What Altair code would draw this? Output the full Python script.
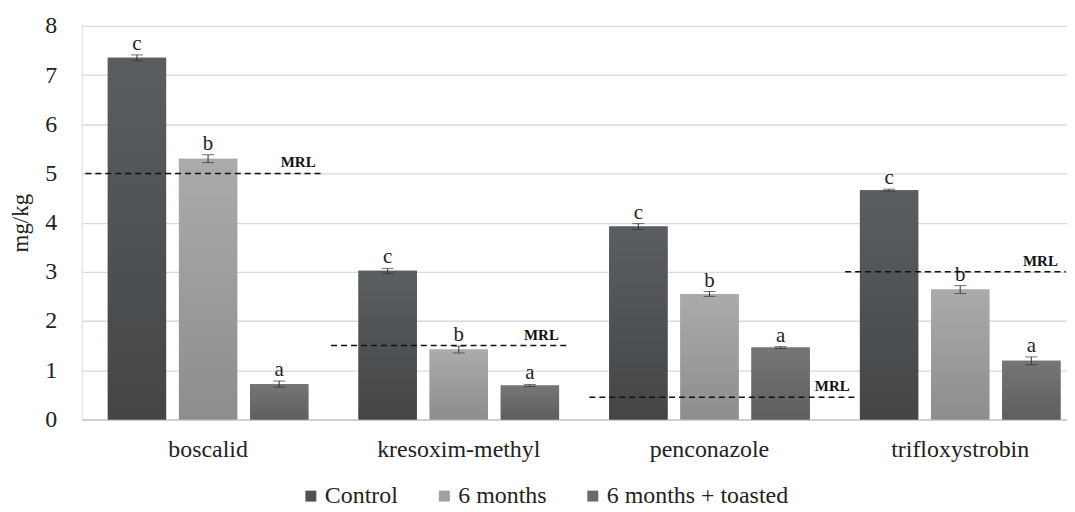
import altair as alt
import pandas as pd

categories = ["boscalid", "kresoxim-methyl", "penconazole", "trifloxystrobin"]
series = ["Control", "6 months", "6 months + toasted"]

control = [7.35, 3.02, 3.92, 4.66]
six_months = [5.30, 1.42, 2.55, 2.64]
toasted = [0.72, 0.69, 1.46, 1.19]

err_control = [0.06, 0.05, 0.06, 0.02]
err_six = [0.08, 0.07, 0.05, 0.08]
err_toasted = [0.06, 0.02, 0.02, 0.08]

letters_control = ["c", "c", "c", "c"]
letters_six = ["b", "b", "b", "b"]
letters_toasted = ["a", "a", "a", "a"]

mrl = [5.0, 1.5, 0.45, 3.0]

FONT = "Liberation Serif"
flat_colors = ["#4f5254", "#9ea0a2", "#686a6c"]
grad_stops = {
    "Control": ("#5b5e60", "#434547"),
    "6 months": ("#a9abac", "#8b8d8f"),
    "6 months + toasted": ("#747678", "#5c5e60"),
}

rows = []
for vals, errs, lets, s in [
    (control, err_control, letters_control, "Control"),
    (six_months, err_six, letters_six, "6 months"),
    (toasted, err_toasted, letters_toasted, "6 months + toasted"),
]:
    for c, v, e, l in zip(categories, vals, errs, lets):
        rows.append({"category": c, "series": s, "value": v,
                     "lo": v - e, "hi": v + e, "letter": l})
df = pd.DataFrame(rows)

# MRL lines span roughly each category's band (in category units, centre = index)
mrl_from = [-0.49, -0.51, -0.48, -0.46]
mrl_to = [0.46, 0.43, 0.59, 0.42]
df_mrl = pd.DataFrame({
    "category": categories,
    "mrl": mrl,
    "x0": [i + a for i, a in enumerate(mrl_from)],
    "x1": [i + b for i, b in enumerate(mrl_to)],
    "label": ["MRL"] * 4,
})

xscale = alt.Scale(domain=categories, paddingInner=0.2, paddingOuter=0.065, align=0.8)
X = alt.X("category:N", sort=categories, scale=xscale,
          axis=alt.Axis(title=None, labelAngle=0, ticks=False, domain=True,
                        domainColor="#d0d0d0", domainWidth=2, labelFont=FONT,
                        labelFontSize=24, labelColor="#222222", labelPadding=18,
                        grid=False))
XO = alt.XOffset("series:N", sort=series,
                 scale=alt.Scale(domain=series, paddingInner=0.18, paddingOuter=0))
yscale = alt.Scale(domain=[0, 8], nice=False, zero=True)
yaxis = alt.Axis(title="mg/kg", values=list(range(0, 9)), ticks=False,
                 domain=False, gridColor="#d9d9d9", gridWidth=1.3,
                 labelFont=FONT, labelFontSize=24, labelColor="#222222",
                 labelPadding=25, titleFont=FONT, titleFontSize=23,
                 titleFontWeight="normal", titleColor="#222222",
                 titlePadding=12, format="d")


def Yq(field):
    return alt.Y(field, scale=yscale, axis=yaxis, title="mg/kg")


legend = alt.Legend(title=None, orient="none", legendX=218, legendY=460,
                    direction="horizontal",
                    symbolType="square", symbolSize=120,
                    symbolStrokeWidth=0, labelFont=FONT,
                    labelFontSize=24, labelColor="#222222",
                    labelLimit=400, columnPadding=34, labelOffset=2)

base = alt.Chart(df)

flat = base.mark_bar().encode(
    x=X, xOffset=XO, y=Yq("value:Q"),
    color=alt.Color("series:N", sort=series,
                    scale=alt.Scale(domain=series, range=flat_colors),
                    legend=legend),
)

grad_layers = []
for s in series:
    top, bottom = grad_stops[s]
    grad_layers.append(
        base.transform_filter(alt.datum.series == s).mark_bar(
            color=alt.Gradient(gradient="linear",
                               stops=[alt.GradientStop(color=top, offset=0),
                                      alt.GradientStop(color=bottom, offset=1)],
                               x1=1, x2=1, y1=0, y2=1)
        ).encode(x=X, xOffset=XO, y=Yq("value:Q"))
    )

err_rule = base.mark_rule(color="#333333", strokeWidth=1).encode(
    x=X, xOffset=XO, y=Yq("lo:Q"), y2="hi:Q")
cap_lo = base.mark_tick(color="#333333", size=12, thickness=1).encode(
    x=X, xOffset=XO, y=Yq("lo:Q"))
cap_hi = base.mark_tick(color="#333333", size=12, thickness=1).encode(
    x=X, xOffset=XO, y=Yq("hi:Q"))
letters = base.mark_text(font=FONT, fontSize=21, color="#222222",
                         baseline="alphabetic", dy=-5).encode(
    x=X, xOffset=XO, y=Yq("hi:Q"), text="letter:N")

qx = alt.Scale(domain=[-0.5046, 3.4247], nice=False, zero=False)
mrl_base = alt.Chart(df_mrl)
mrl_rule = mrl_base.mark_rule(color="#111111", strokeWidth=1.5, strokeDash=[6, 4]).encode(
    x=alt.X("x0:Q", scale=qx, axis=None), x2="x1:Q",
    y=Yq("mrl:Q"))
mrl_text = mrl_base.mark_text(font=FONT, fontSize=15, fontWeight="bold", color="#111111",
                              align="right", baseline="alphabetic", dx=-8, dy=-6).encode(
    x=alt.X("x1:Q", scale=qx, axis=None),
    y=Yq("mrl:Q"), text="label:N")

bars = alt.layer(flat, *grad_layers, err_rule, cap_lo, cap_hi, letters)
lines = alt.layer(mrl_rule, mrl_text)

chart = alt.layer(bars, lines).resolve_scale(x="independent").properties(
    width=989, height=395,
    padding={"left": 2, "top": 5, "right": 0, "bottom": 0},
).configure_view(stroke=None).configure(
    background="white", font=FONT,
).configure_legend(labelFont=FONT, labelFontSize=24
).configure_axis(labelFont=FONT, titleFont=FONT)

chart.save("out.html", embed_options={"renderer": "svg", "actions": False})
